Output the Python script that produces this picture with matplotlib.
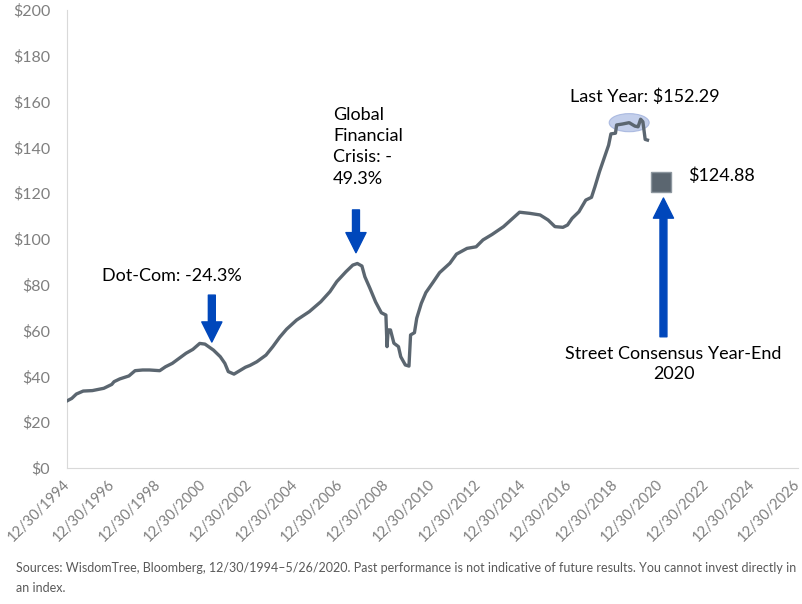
import matplotlib
matplotlib.use("Agg")
import matplotlib.pyplot as plt
from matplotlib.patches import Ellipse

# earnings line, decimal years
years = [1994.99, 1995.2, 1995.4, 1995.7, 1996.1, 1996.6, 1996.95, 1997.05, 1997.3, 1997.7,
         1997.97, 1998.3, 1998.6, 1999.05, 1999.3, 1999.6, 1999.9, 2000.2, 2000.5, 2000.8,
         2001.03, 2001.4, 2001.7, 2001.9, 2002.05, 2002.3, 2002.6, 2002.8, 2003.0, 2003.3,
         2003.7, 2004.0, 2004.3, 2004.6, 2005.04, 2005.6, 2006.1, 2006.5, 2006.8, 2007.2,
         2007.5, 2007.7, 2007.9, 2008.03, 2008.25, 2008.5, 2008.75, 2008.95, 2009.0, 2009.05,
         2009.15, 2009.3, 2009.5, 2009.6, 2009.8, 2009.96, 2010.03, 2010.2, 2010.3, 2010.5,
         2010.7, 2011.0, 2011.3, 2011.75, 2012.04, 2012.5, 2012.9, 2013.2, 2013.6, 2014.1,
         2014.5, 2014.8, 2015.25, 2015.7, 2016.05, 2016.35, 2016.7, 2016.9, 2017.1, 2017.4,
         2017.7, 2017.95, 2018.1, 2018.3, 2018.5, 2018.7, 2018.8, 2019.0, 2019.05, 2019.3,
         2019.6, 2019.85, 2019.99, 2020.1, 2020.2, 2020.3, 2020.4]
values = [29.3, 30.4, 32.3, 33.6, 33.8, 34.8, 36.5, 37.7, 38.9, 40.2,
          42.5, 42.8, 42.8, 42.5, 44.2, 45.7, 47.9, 50.1, 51.8, 54.4,
          54.1, 51.5, 48.6, 45.7, 42.1, 41.0, 42.8, 44.0, 44.8, 46.4,
          49.3, 53.0, 57.1, 60.6, 64.6, 68.3, 72.6, 77.0, 81.4, 85.7,
          88.6, 89.3, 88.2, 83.5, 78.5, 72.5, 67.8, 66.8, 53.0, 60.3,
          60.3, 54.5, 53.0, 48.6, 45.0, 44.5, 58.1, 59.1, 65.4, 71.9,
          76.6, 80.9, 85.3, 89.4, 93.4, 95.9, 96.6, 99.6, 102.0, 105.4,
          109.0, 111.7, 111.2, 110.5, 108.3, 105.4, 105.1, 106.1, 109.0, 111.9,
          117.0, 118.2, 122.8, 129.4, 135.2, 141.0, 145.9, 146.2, 149.8, 150.2,
          150.8, 149.3, 149.0, 152.3, 151.2, 143.5, 143.2]

consensus_year = 2020.99
consensus_value = 124.88

tick_years = list(range(1995, 2028, 2))
tick_labels = ["12/30/{}".format(y - 1) for y in tick_years]
y_ticks = list(range(0, 201, 20))

line_col = "#5b6670"
blue = "#0047bb"
grey_txt = "#7f7f7f"
annot_font = ["Lato", "DejaVu Sans"]
small_font = ["Lato", "DejaVu Sans"]

fig = plt.figure(figsize=(8.03, 6.04), dpi=100)
ax = fig.add_axes([67 / 803, 1 - 468 / 604, 731 / 803, 458 / 604])

ax.plot(years, values, color=line_col, lw=2.4, solid_joinstyle="round", zorder=3)
ax.plot([consensus_year], [consensus_value], marker="s", ms=14, color=line_col,
        mec="#8d979f", mew=1, ls="none", zorder=4)

# highlight of the last year
ax.add_patch(Ellipse((2019.6, 150.8), 1.75, 7.9, facecolor="#b4c3e6", alpha=0.8,
                     edgecolor="#9fb0dc", lw=0.8, zorder=2))

ax.set_xlim(1994.99, 2026.99)
ax.set_ylim(0, 200)
ax.set_yticks(y_ticks)
ax.set_yticklabels(["${}".format(v) for v in y_ticks], family=small_font,
                   fontsize=11.5, color=grey_txt)
ax.set_xticks([t - 0.01 for t in tick_years])
ax.set_xticklabels(tick_labels, rotation=45, ha="right", va="center", rotation_mode="anchor",
                   family=small_font, fontsize=10.5, color=grey_txt)
ax.tick_params(axis="y", length=0, pad=12)
ax.tick_params(axis="x", length=0, pad=10)
for s in ["top", "right"]:
    ax.spines[s].set_visible(False)
for s in ["left", "bottom"]:
    ax.spines[s].set_color("#d9d9d9")

# arrows
arrow = dict(arrowstyle="simple,head_width=1.45,head_length=1.45,tail_width=0.5",
             color=blue, shrinkA=0, shrinkB=0, mutation_scale=10)
ax.annotate("", xy=(2001.33, 55.0), xytext=(2001.33, 75.5), arrowprops=arrow)
ax.annotate("", xy=(2007.64, 94.0), xytext=(2007.64, 112.7), arrowprops=arrow)
ax.annotate("", xy=(2021.1, 117.9), xytext=(2021.1, 57.3), arrowprops=arrow)

# labels
ax.text(1999.6, 83.8, "Dot-Com: -24.3%", family=annot_font, fontsize=13,
        ha="center", va="center")
ax.text(2006.63, 157.6, "Global\nFinancial\nCrisis: -\n49.3%", family=annot_font,
        fontsize=13, ha="left", va="top", linespacing=1.4)
ax.text(2020.28, 162.1, "Last Year: $152.29", family=annot_font, fontsize=13,
        ha="center", va="center")
ax.text(2022.17, 127.5, "$124.88", family=annot_font, fontsize=13,
        ha="left", va="center")
ax.text(2021.54, 45.4, "Street Consensus Year-End\n2020", family=annot_font,
        fontsize=13, ha="center", va="center", linespacing=1.3)

fig.text(16 / 803, 1 - 578 / 604,
         "Sources: WisdomTree, Bloomberg, 12/30/1994\u20135/26/2020. Past performance is not "
         "indicative of future results. You cannot invest directly in\nan index.",
         family=small_font, fontsize=9, color="#595959", ha="left", va="center",
         linespacing=1.85)

fig.savefig("out.png", dpi=100)
